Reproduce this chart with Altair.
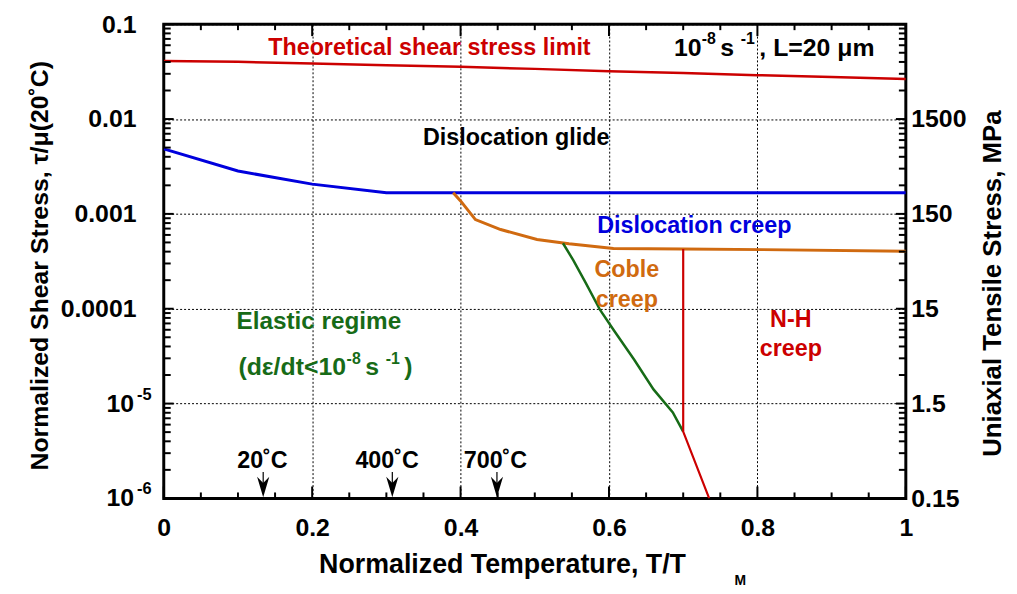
import altair as alt
import pandas as pd

# ---------------- data ----------------
THEO_X = [0.0, 0.1, 0.2, 0.3, 0.4, 0.5, 0.6, 0.7, 0.8, 0.9, 1.0]
THEO_Y = [0.0410, 0.0401, 0.0385, 0.0370, 0.0355, 0.0338, 0.0320, 0.0305, 0.0290, 0.0277, 0.0264]

GLIDE_X = [0.0, 0.1, 0.2, 0.3, 1.0]
GLIDE_Y = [0.00484, 0.00283, 0.00206, 0.00167, 0.00167]

CREEP_X = [0.39, 0.40, 0.42, 0.454, 0.503, 0.546, 0.606, 0.70, 0.807, 1.0]
CREEP_Y = [0.00167, 0.00137, 0.00087, 0.000684, 0.000537, 0.000484, 0.000432, 0.000426, 0.00042, 0.000403]

COBLE_X = [0.538, 0.552, 0.569, 0.588, 0.606, 0.634, 0.66, 0.686, 0.70]
COBLE_Y = [0.00049, 0.000324, 0.000185, 9.7e-5, 6.0e-5, 2.9e-5, 1.41e-5, 8.07e-6, 5.06e-6]

NH_X = [0.70, 0.70, 0.735]
NH_Y = [0.000426, 5.06e-6, 1e-6]

X_TICKS = [0, 0.2, 0.4, 0.6, 0.8, 1]
X_MINOR = [0.05, 0.1, 0.15, 0.25, 0.3, 0.35, 0.45, 0.5, 0.55, 0.65, 0.7, 0.75, 0.85, 0.9, 0.95]
Y_TICKS = [0.1, 0.01, 0.001, 0.0001, 1e-5, 1e-6]
Y_LABELS = ["0.1", "0.01", "0.001", "0.0001", "", ""]
Y_POW_TICKS = [1e-5, 1e-6]
Y_POW_EXP = ["-5", "-6"]
R_LABELS = ["", "1500", "150", "15", "1.5", "0.15"]
Y_MINOR = [k * 10.0 ** e for e in range(-6, -1) for k in range(2, 10)]

ARROW_X = [0.134, 0.308, 0.449]
ARROW_LABEL_X = [0.133, 0.301, 0.447]
ARROW_LABELS = ["20˚C", "400˚C", "700˚C"]

FONT = "Liberation Sans"
W, H = 748, 478
RED, BLUE, ORANGE, GREEN = "#cc0000", "#0000dd", "#d06a10", "#176b17"
TS = 23.5   # in-plot text size
LS = 25     # tick label size

xs = alt.Scale(domain=[0, 1], nice=False, zero=False)
ys = alt.Scale(type="log", domain=[1e-6, 0.1], nice=False)


def label_expr(labels):
    parts = sorted(zip(Y_TICKS, labels))
    expr = "'%s'" % parts[-1][1]
    for v, lab in reversed(parts[:-1]):
        expr = "datum.value < %g ? '%s' : (%s)" % (v * 2, lab, expr)
    return expr


x_axis = alt.Axis(values=X_TICKS, format="~g", ticks=False, domain=False, grid=True,
                  gridColor="black", gridDash=[2, 2], gridWidth=1, gridOpacity=1,
                  labelFont=FONT, labelFontSize=LS, labelFontWeight="bold", labelColor="black",
                  labelPadding=17, labelFlush=False,
                  title="Normalized Temperature, T/T", titleFont=FONT, titleFontSize=27,
                  titleFontWeight="bold", titleColor="black", titleX=341, titleY=67,
                  titleBaseline="middle")
y_axis = alt.Axis(values=Y_TICKS, labelExpr=label_expr(Y_LABELS), ticks=False, domain=False,
                  grid=True, gridColor="black", gridDash=[2, 2], gridWidth=1, gridOpacity=1,
                  labelFont=FONT, labelFontSize=LS, labelFontWeight="bold", labelColor="black",
                  labelPadding=28, labelFlush=False, labelBaseline="middle",
                  title="Normalized Shear Stress,  τ/μ(20˚C)", titleFont=FONT, titleFontSize=25,
                  titleFontWeight="bold", titleColor="black", titleX=-125, titleY=H / 2 + 4,
                  titleBaseline="middle", titleAngle=270)
r_axis = alt.Axis(values=Y_TICKS, labelExpr=label_expr(R_LABELS), ticks=False, domain=False,
                  grid=False, orient="right",
                  labelFont=FONT, labelFontSize=LS, labelFontWeight="bold", labelColor="black",
                  labelPadding=5, labelFlush=False, labelBaseline="middle",
                  title="Uniaxial Tensile Stress, MPa", titleFont=FONT, titleFontSize=26,
                  titleFontWeight="bold", titleColor="black", titleX=87, titleY=H / 2 + 22,
                  titleBaseline="middle", titleAngle=270)


def X(field):
    return alt.X(field, type="quantitative", scale=xs, axis=x_axis)


def Y(field):
    return alt.Y(field, type="quantitative", scale=ys, axis=y_axis)


def line(xv, yv, color, width):
    df = pd.DataFrame({"x": xv, "y": yv, "i": list(range(len(xv)))})
    return alt.Chart(df).mark_line(color=color, strokeWidth=width, clip=True).encode(
        x=X("x"), y=Y("y"), order="i:Q")


theo = line(THEO_X, THEO_Y, RED, 2.5)
glide = line(GLIDE_X, GLIDE_Y, BLUE, 3)
creep = line(CREEP_X, CREEP_Y, ORANGE, 3)
coble = line(COBLE_X, COBLE_Y, GREEN, 2.5)
nh = line(NH_X, NH_Y, RED, 2.2)

# inward ticks
ymaj = pd.DataFrame({"v": Y_TICKS})
ymin = pd.DataFrame({"v": Y_MINOR})
xmaj = pd.DataFrame({"v": X_TICKS})
xmin = pd.DataFrame({"v": X_MINOR})


def yt(df, x0, x1):
    return alt.Chart(df).mark_rule(color="black", strokeWidth=2).encode(
        y=Y("v"), x=alt.value(x0), x2=alt.value(x1))


def xt(df, y0, y1):
    return alt.Chart(df).mark_rule(color="black", strokeWidth=2).encode(
        x=X("v"), y=alt.value(y0), y2=alt.value(y1))


ticks = [yt(ymaj, 0, 10), yt(ymin, 0, 7), yt(ymaj, W, W - 10), yt(ymin, W, W - 7),
         xt(xmaj, H, H - 12), xt(xmin, H, H - 6), xt(xmaj, 0, 12), xt(xmin, 0, 6)]

# approximate advance widths (em) of Liberation Sans Bold
CW = {c: 0.556 for c in "0123456789sd"}
CW.update({"-": 0.333, " ": 0.278, ",": 0.278, "L": 0.611, "=": 0.584, "μ": 0.611,
           "m": 0.889, "(": 0.333, ")": 0.333, "d": 0.611, "ε": 0.5, "/": 0.278,
           "t": 0.333, "<": 0.584})


def tw(s, size):
    return sum(CW.get(c, 0.556) for c in s) * size


def text(labels, xv, yv, color, size=TS, align="center", dx=0, dy=0):
    df = pd.DataFrame({"t": labels, "x": xv, "y": yv})
    return alt.Chart(df).mark_text(font=FONT, fontSize=size, fontWeight="bold", color=color,
                                   align=align, baseline="middle", dx=dx, dy=dy).encode(
        x=X("x"), y=Y("y"), text="t:N")


def rich(pieces, x, y, color, size=TS):
    """pieces: list of (text, superscript?) laid out left to right, centred on x."""
    ssize = size * 0.64
    widths = [tw(t, ssize if sup else size) for t, sup in pieces]
    start = -sum(widths) / 2
    layers = []
    for (t, sup), w in zip(pieces, widths):
        layers.append(text([t], [x], [y], color, size=ssize if sup else size, align="left",
                           dx=start, dy=-0.36 * size if sup else 0))
        start += w
    return layers


texts = [
    text(["Theoretical shear stress limit"], [0.358], [0.0561], RED),
    *rich([("10", False), (" -8", True), (" s", False), (" -1", True), (",  L=20  μm", False)],
          0.832, 0.0561, "black", size=25),
    text(["Dislocation glide"], [0.475], [0.00627], "black"),
    text(["Dislocation creep"], [0.715], [0.000753], BLUE),
    text(["Coble", "creep"], [0.624, 0.624], [0.000255, 0.000124], ORANGE),
    text(["N-H", "creep"], [0.845, 0.845], [7.63e-5, 3.8e-5], RED),
    text(["Elastic regime"], [0.209], [7.27e-5], GREEN, size=24.5),
    *rich([("(dε/dt<10", False), (" -8", True), (" s", False), (" -1", True), (")", False)],
          0.218, 2.4e-5, GREEN, size=25),
    text(ARROW_LABELS, ARROW_LABEL_X, [2.5e-6] * 3, "black"),
    text(["M"], [0.777], [1.33e-7], "black", size=14),
    # powers of ten on the left axis
    text(["10", "10"], [0, 0], Y_POW_TICKS, "black", size=LS, align="right", dx=-30),
    text(Y_POW_EXP, [0, 0], Y_POW_TICKS, "black", size=LS * 0.66, align="left", dx=-27, dy=-9),
]

adf = pd.DataFrame({"x": ARROW_X, "y0": [1.9e-6] * 3, "y1": [1.3e-6] * 3, "yh": [1.32e-6] * 3})
shaft = alt.Chart(adf).mark_rule(color="black", strokeWidth=1.2).encode(
    x=X("x"), y=Y("y0"), y2="y1:Q")
head = alt.Chart(adf).mark_point(shape="M -0.6 -1 L 0 1 L 0.6 -1 L 0 -0.4 Z", size=420,
                                  filled=True, color="black", opacity=1, strokeWidth=0).encode(
    x=X("x"), y=Y("yh"))

main = alt.layer(theo, glide, creep, coble, nh, *ticks, *texts, shaft, head)

right = alt.Chart(ymaj).mark_rule(opacity=0).encode(
    y=alt.Y("v:Q", scale=ys, axis=r_axis), x=alt.value(W), x2=alt.value(W))

chart = alt.layer(main, right).resolve_scale(y="independent").properties(
    width=W, height=H,
    autosize=alt.AutoSizeParams(type="none"),
    padding={"left": 157, "top": 14, "right": 104, "bottom": 92},
).configure_view(stroke="black", strokeWidth=3)

chart.save("out.html", embed_options={"renderer": "svg", "actions": False})
